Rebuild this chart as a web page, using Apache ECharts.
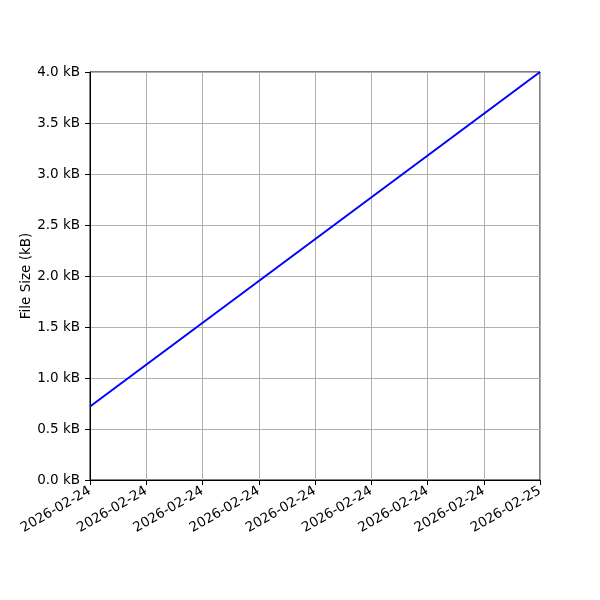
<!DOCTYPE html>
<html><head><meta charset="utf-8">
<script src="https://cdn.jsdelivr.net/npm/echarts@6/dist/echarts.min.js"></script>
<style>html,body{margin:0;padding:0;background:#fff}#c{width:600px;height:600px}</style>
</head><body><div id="c"></div>
<script>
const tickLabels = ['2026-02-24','2026-02-24','2026-02-24','2026-02-24','2026-02-24','2026-02-24','2026-02-24','2026-02-24','2026-02-25'];
const xPositions = [0, 8];
const fileSizeKB = [0.72, 4.0];
const yTicks = [0, 0.5, 1.0, 1.5, 2.0, 2.5, 3.0, 3.5, 4.0];

const chart = echarts.init(document.getElementById('c'), null, {renderer:'canvas'});
const font = 'DejaVu Sans';
chart.setOption({
  animation: false,
  grid: {left: 90, right: 60, top: 72, bottom: 120, show: true, borderColor: '#000', borderWidth: 1, backgroundColor: 'transparent'},
  xAxis: {
    type: 'value', min: 0, max: tickLabels.length - 1, interval: 1,
    axisLine: {show: true, lineStyle: {color: '#000', width: 1}},
    axisTick: {show: true, length: 5, lineStyle: {color: '#000'}},
    splitLine: {show: true, lineStyle: {color: '#b0b0b0', width: 1}},
    axisLabel: {rotate: 30, color: '#000', fontFamily: font, fontSize: 13.5, margin: 10,
      formatter: v => tickLabels[Math.round(v)] || ''}
  },
  yAxis: {
    type: 'value', min: yTicks[0], max: yTicks[yTicks.length-1], interval: 0.5,
    name: 'File Size (kB)', nameLocation: 'middle', nameGap: 57, nameRotate: 90,
    nameMoveOverlap: false,
    nameTextStyle: {color: '#000', fontFamily: font, fontSize: 13.5},
    axisLine: {show: true, lineStyle: {color: '#000', width: 1}},
    axisTick: {show: true, length: 5, lineStyle: {color: '#000'}},
    splitLine: {show: true, lineStyle: {color: '#b0b0b0', width: 1}},
    axisLabel: {color: '#000', fontFamily: font, fontSize: 13.5, margin: 10,
      formatter: v => v.toFixed(1) + ' kB'}
  },
  series: [{
    type: 'line', showSymbol: false, symbol: 'none',
    data: xPositions.map((x, i) => [x, fileSizeKB[i]]),
    lineStyle: {color: '#0000ff', width: 2}
  }]
});
</script></body></html>
